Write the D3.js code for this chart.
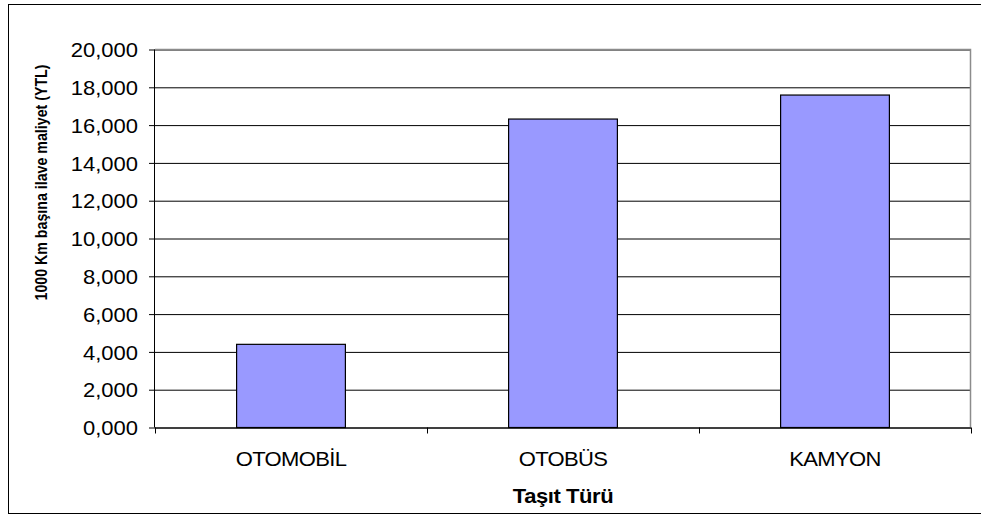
<!DOCTYPE html>
<html>
<head>
<meta charset="utf-8">
<script src="https://cdn.jsdelivr.net/npm/d3@7"></script>
<style>
  body { margin: 0; background: #fff; }
  text { font-family: "Liberation Sans", Arial, sans-serif; fill: #000; }
</style>
</head>
<body>
<div id="chart"></div>
<script>
// data
const categories = ["OTOMOBİL", "OTOBÜS", "KAMYON"];
const costs = [4.40, 16.32, 17.59];
const yTicks = [0, 2, 4, 6, 8, 10, 12, 14, 16, 18, 20];
const xTitle = "Taşıt Türü";
const yTitle = "1000 Km başına ilave maliyet (YTL)";

const width = 981;
const height = 515;
const plot = {left: 155, right: 971, top: 49.5, bottom: 427.5};
const stretch = 1.1; // text in the picture is a bit wider than normal

// turkish style numbers: comma as decimal mark
const tr = d3.formatLocale({decimal: ",", thousands: ".", grouping: [3], currency: ["", " YTL"]});
const fmt = tr.format(".3f");

const svg = d3.select("#chart").append("svg")
    .attr("width", width)
    .attr("height", height);

// outer chart frame (right edge runs off the picture)
svg.append("rect")
    .attr("x", 8.5).attr("y", 4.5)
    .attr("width", 1000).attr("height", 509)
    .attr("fill", "none")
    .attr("stroke", "#000");

const x = d3.scaleBand()
    .domain(categories)
    .range([plot.left, plot.right])
    .padding(0);

const xBar = d3.scaleBand()
    .domain(categories)
    .range([plot.left, plot.right])
    .paddingInner(0.6)
    .paddingOuter(0.3);

const y = d3.scaleLinear()
    .domain([0, 20])
    .range([plot.bottom, plot.top]);

// gridlines
svg.append("g")
    .attr("transform", `translate(${plot.left},0)`)
    .call(d3.axisLeft(y).tickValues(yTicks).tickSize(-(plot.right - plot.left)).tickFormat(""))
    .call(g => g.select(".domain").remove())
    .call(g => g.selectAll("line").attr("stroke", "#000"));

// plot area top + right edge, grey
svg.append("path")
    .attr("d", `M${plot.left},${plot.top}H${plot.right - 0.5}V${plot.bottom}`)
    .attr("fill", "none")
    .attr("stroke", "#8c8c8c")
    .attr("stroke-width", 1.5);

// bars
svg.selectAll(".bar")
    .data(categories)
    .enter().append("rect")
    .attr("class", "bar")
    .attr("x", (d) => xBar(d))
    .attr("y", (d, i) => y(costs[i]))
    .attr("width", xBar.bandwidth())
    .attr("height", (d, i) => y(0) - y(costs[i]))
    .attr("fill", "#9999ff")
    .attr("stroke", "#000")
    .attr("stroke-width", 1.2);

// y axis
svg.append("g")
    .attr("transform", `translate(${plot.left},0)`)
    .call(d3.axisLeft(y).tickValues(yTicks).tickSize(6).tickPadding(9.5).tickFormat(fmt))
    .call(g => g.select(".domain").attr("stroke", "#000").attr("d", `M-0.5,${plot.top}V${plot.bottom}`))
    .call(g => g.selectAll("line").attr("stroke", "#000"))
    .call(g => g.selectAll("text")
        .attr("font-size", 20)
        .attr("font-family", null)
        .attr("dy", "0.36em")
        .attr("transform", `scale(${stretch},1)`));

// x axis: labels at band centres
svg.append("g")
    .attr("transform", `translate(0,${plot.bottom})`)
    .call(d3.axisBottom(x).tickSize(0).tickPadding(24.3))
    .call(g => g.select(".domain").attr("stroke", "#000").attr("d", `M${plot.left},0.5H${plot.right}`))
    .call(g => g.selectAll(".tick text")
        .attr("font-size", 20)
        .attr("font-family", null)
        .attr("letter-spacing", -0.6)
        .attr("transform", `scale(${stretch},1)`));

// x tick marks on the band edges
const edges = categories.map(d => x(d)).concat([plot.right]);
svg.append("g")
    .selectAll("line")
    .data(edges)
    .enter().append("line")
    .attr("x1", d => Math.round(d) + 0.5)
    .attr("x2", d => Math.round(d) + 0.5)
    .attr("y1", plot.bottom)
    .attr("y2", plot.bottom + 6)
    .attr("stroke", "#000");

// axis titles
svg.append("text")
    .attr("transform", `translate(${(plot.left + plot.right) / 2},503) scale(${stretch},1)`)
    .attr("text-anchor", "middle")
    .attr("font-size", 20)
    .attr("font-weight", "bold")
    .attr("letter-spacing", -0.4)
    .text(xTitle);

svg.append("text")
    .attr("transform", `translate(46.5,182.5) scale(${stretch},1) rotate(-90)`)
    .attr("text-anchor", "middle")
    .attr("font-size", 15.5)
    .attr("font-weight", "bold")
    .attr("textLength", 236)
    .attr("lengthAdjust", "spacingAndGlyphs")
    .text(yTitle);
</script>
</body>
</html>
